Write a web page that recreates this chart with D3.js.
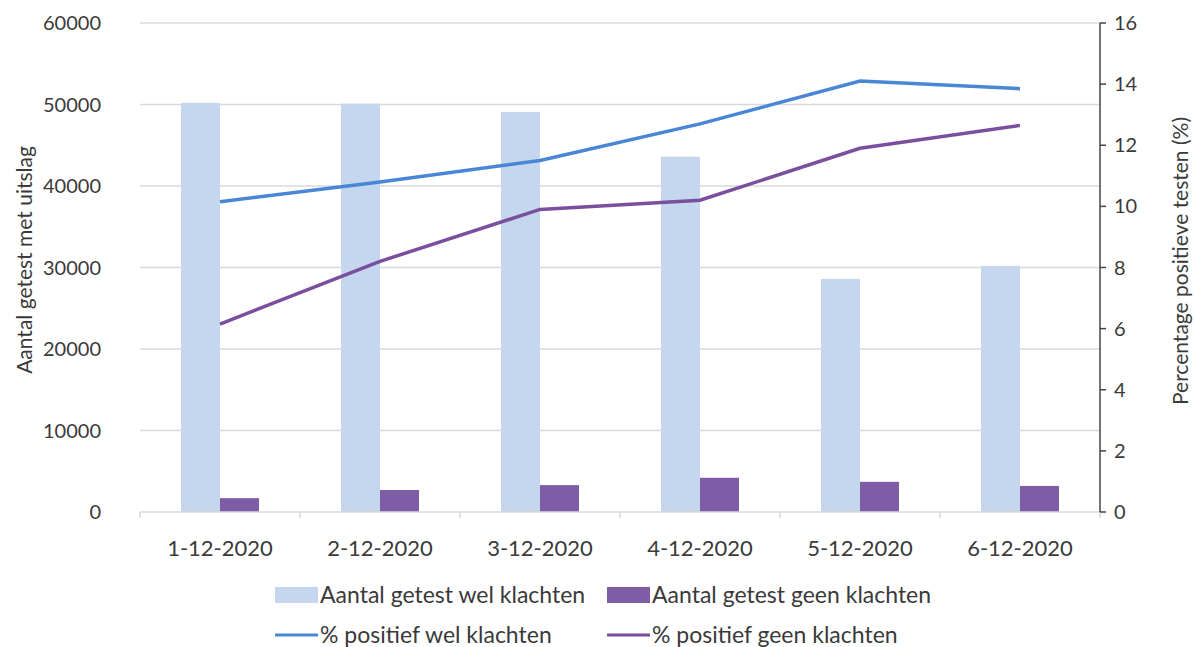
<!DOCTYPE html>
<html>
<head>
<meta charset="utf-8">
<script src="https://cdn.jsdelivr.net/npm/d3@7"></script>
<style>
  body { margin: 0; background: #fff; }
  text { font-family: Lato, "Open Sans", sans-serif; fill: #3a3a3a; }
</style>
</head>
<body>
<script>
// data
var dates = ['1-12-2020', '2-12-2020', '3-12-2020', '4-12-2020', '5-12-2020', '6-12-2020'];
var getestWel = [50200, 50100, 49100, 43600, 28600, 30200];
var getestGeen = [1700, 2700, 3300, 4200, 3700, 3200];
var positiefWel = [10.15, 10.8, 11.5, 12.7, 14.1, 13.85];
var positiefGeen = [6.15, 8.2, 9.9, 10.2, 11.9, 12.65];
var leftTicks = [0, 10000, 20000, 30000, 40000, 50000, 60000];
var rightTicks = [0, 2, 4, 6, 8, 10, 12, 14, 16];

var colWel = '#c5d7ef', colGeen = '#7e5ca6', colLineWel = '#4a86d6', colLineGeen = '#7a4f9e';

var width = 1194, height = 647;
// note: "top" is taken by window.top, so plot edges get their own names
var plotLeft = 140, plotRight = 1100, plotTop = 23, plotBottom = 512;

var svg = d3.select('body').append('svg')
    .attr('width', width).attr('height', height);

var x = d3.scaleBand().domain(dates).range([plotLeft, plotRight]);
var yL = d3.scaleLinear().domain([0, 60000]).range([plotBottom, plotTop]);
var yR = d3.scaleLinear().domain([0, 16]).range([plotBottom, plotTop]);

// gridlines
svg.append('g').selectAll('line').data(leftTicks.slice(1)).join('line')
    .attr('x1', plotLeft).attr('x2', plotRight)
    .attr('y1', d => yL(d)).attr('y2', d => yL(d))
    .attr('stroke', '#d9d9d9').attr('stroke-width', 1.5);

// left axis labels
svg.append('g').selectAll('text').data(leftTicks).join('text')
    .attr('x', 101).attr('y', d => yL(d)).attr('dy', '0.35em')
    .attr('text-anchor', 'end').style('font-size', '20px')
    .text(d => d);

// bars
var barW = 39;
svg.append('g').selectAll('rect').data(dates).join('rect')
    .attr('x', d => x(d) + x.bandwidth() / 2 - barW)
    .attr('width', barW)
    .attr('y', (d, i) => yL(getestWel[i]))
    .attr('height', (d, i) => plotBottom - yL(getestWel[i]))
    .attr('fill', colWel);
svg.append('g').selectAll('rect').data(dates).join('rect')
    .attr('x', d => x(d) + x.bandwidth() / 2)
    .attr('width', barW)
    .attr('y', (d, i) => yL(getestGeen[i]))
    .attr('height', (d, i) => plotBottom - yL(getestGeen[i]))
    .attr('fill', colGeen);

// x axis
svg.append('line').attr('x1', plotLeft).attr('x2', plotRight)
    .attr('y1', plotBottom).attr('y2', plotBottom)
    .attr('stroke', '#d9d9d9').attr('stroke-width', 1.5);
svg.append('g').selectAll('line').data(d3.range(dates.length + 1)).join('line')
    .attr('x1', i => plotLeft + i * x.bandwidth()).attr('x2', i => plotLeft + i * x.bandwidth())
    .attr('y1', plotBottom).attr('y2', plotBottom + 6)
    .attr('stroke', '#d9d9d9').attr('stroke-width', 1.5);
svg.append('g').selectAll('text').data(dates).join('text')
    .attr('x', d => x(d) + x.bandwidth() / 2).attr('y', 548)
    .attr('dy', '0.35em').attr('text-anchor', 'middle')
    .style('font-size', '22px').text(d => d);

// lines
var lineGen = function(vals){
    return d3.line()
        .x((d, i) => x(dates[i]) + x.bandwidth() / 2)
        .y(d => yR(d))(vals);
};
svg.append('path').attr('d', lineGen(positiefGeen))
    .attr('fill', 'none').attr('stroke', colLineGeen).attr('stroke-width', 3.5);
svg.append('path').attr('d', lineGen(positiefWel))
    .attr('fill', 'none').attr('stroke', colLineWel).attr('stroke-width', 3.5);

// right axis
var rAxis = svg.append('g');
rAxis.append('line').attr('x1', plotRight).attr('x2', plotRight)
    .attr('y1', plotTop).attr('y2', plotBottom)
    .attr('stroke', '#444').attr('stroke-width', 1.5);
rAxis.selectAll('line.t').data(rightTicks).join('line').attr('class', 't')
    .attr('x1', plotRight).attr('x2', plotRight + 6)
    .attr('y1', d => yR(d)).attr('y2', d => yR(d))
    .attr('stroke', '#444').attr('stroke-width', 1.5);
rAxis.selectAll('text').data(rightTicks).join('text')
    .attr('x', 1114).attr('y', d => yR(d)).attr('dy', '0.35em')
    .style('font-size', '20px').text(d => d);

// axis titles
svg.append('text')
    .attr('transform', 'translate(25,260) rotate(-90)')
    .attr('text-anchor', 'middle').attr('dy', '0.35em').style('font-size', '21px')
    .text('Aantal getest met uitslag');
svg.append('text')
    .attr('transform', 'translate(1181,261) rotate(-90)')
    .attr('text-anchor', 'middle').attr('dy', '0.35em').style('font-size', '21px')
    .text('Percentage positieve testen (%)');

// legend
var legendItems = [
    {label: 'Aantal getest wel klachten', color: colWel, kind: 'bar', x: 275, y: 595},
    {label: 'Aantal getest geen klachten', color: colGeen, kind: 'bar', x: 607, y: 595},
    {label: '% positief wel klachten', color: colLineWel, kind: 'line', x: 275, y: 635},
    {label: '% positief geen klachten', color: colLineGeen, kind: 'line', x: 607, y: 635}
];
var leg = svg.append('g').selectAll('g').data(legendItems).join('g')
    .attr('transform', d => 'translate(' + d.x + ',' + d.y + ')');
leg.filter(d => d.kind == 'bar').append('rect')
    .attr('x', 0).attr('y', -8).attr('width', 43).attr('height', 16)
    .attr('fill', d => d.color);
leg.filter(d => d.kind == 'line').append('line')
    .attr('x1', 0).attr('x2', 43).attr('y1', 0).attr('y2', 0)
    .attr('stroke', d => d.color).attr('stroke-width', 3);
leg.append('text').attr('x', 45).attr('dy', '0.35em')
    .style('font-size', '23px').text(d => d.label);
</script>
</body>
</html>
